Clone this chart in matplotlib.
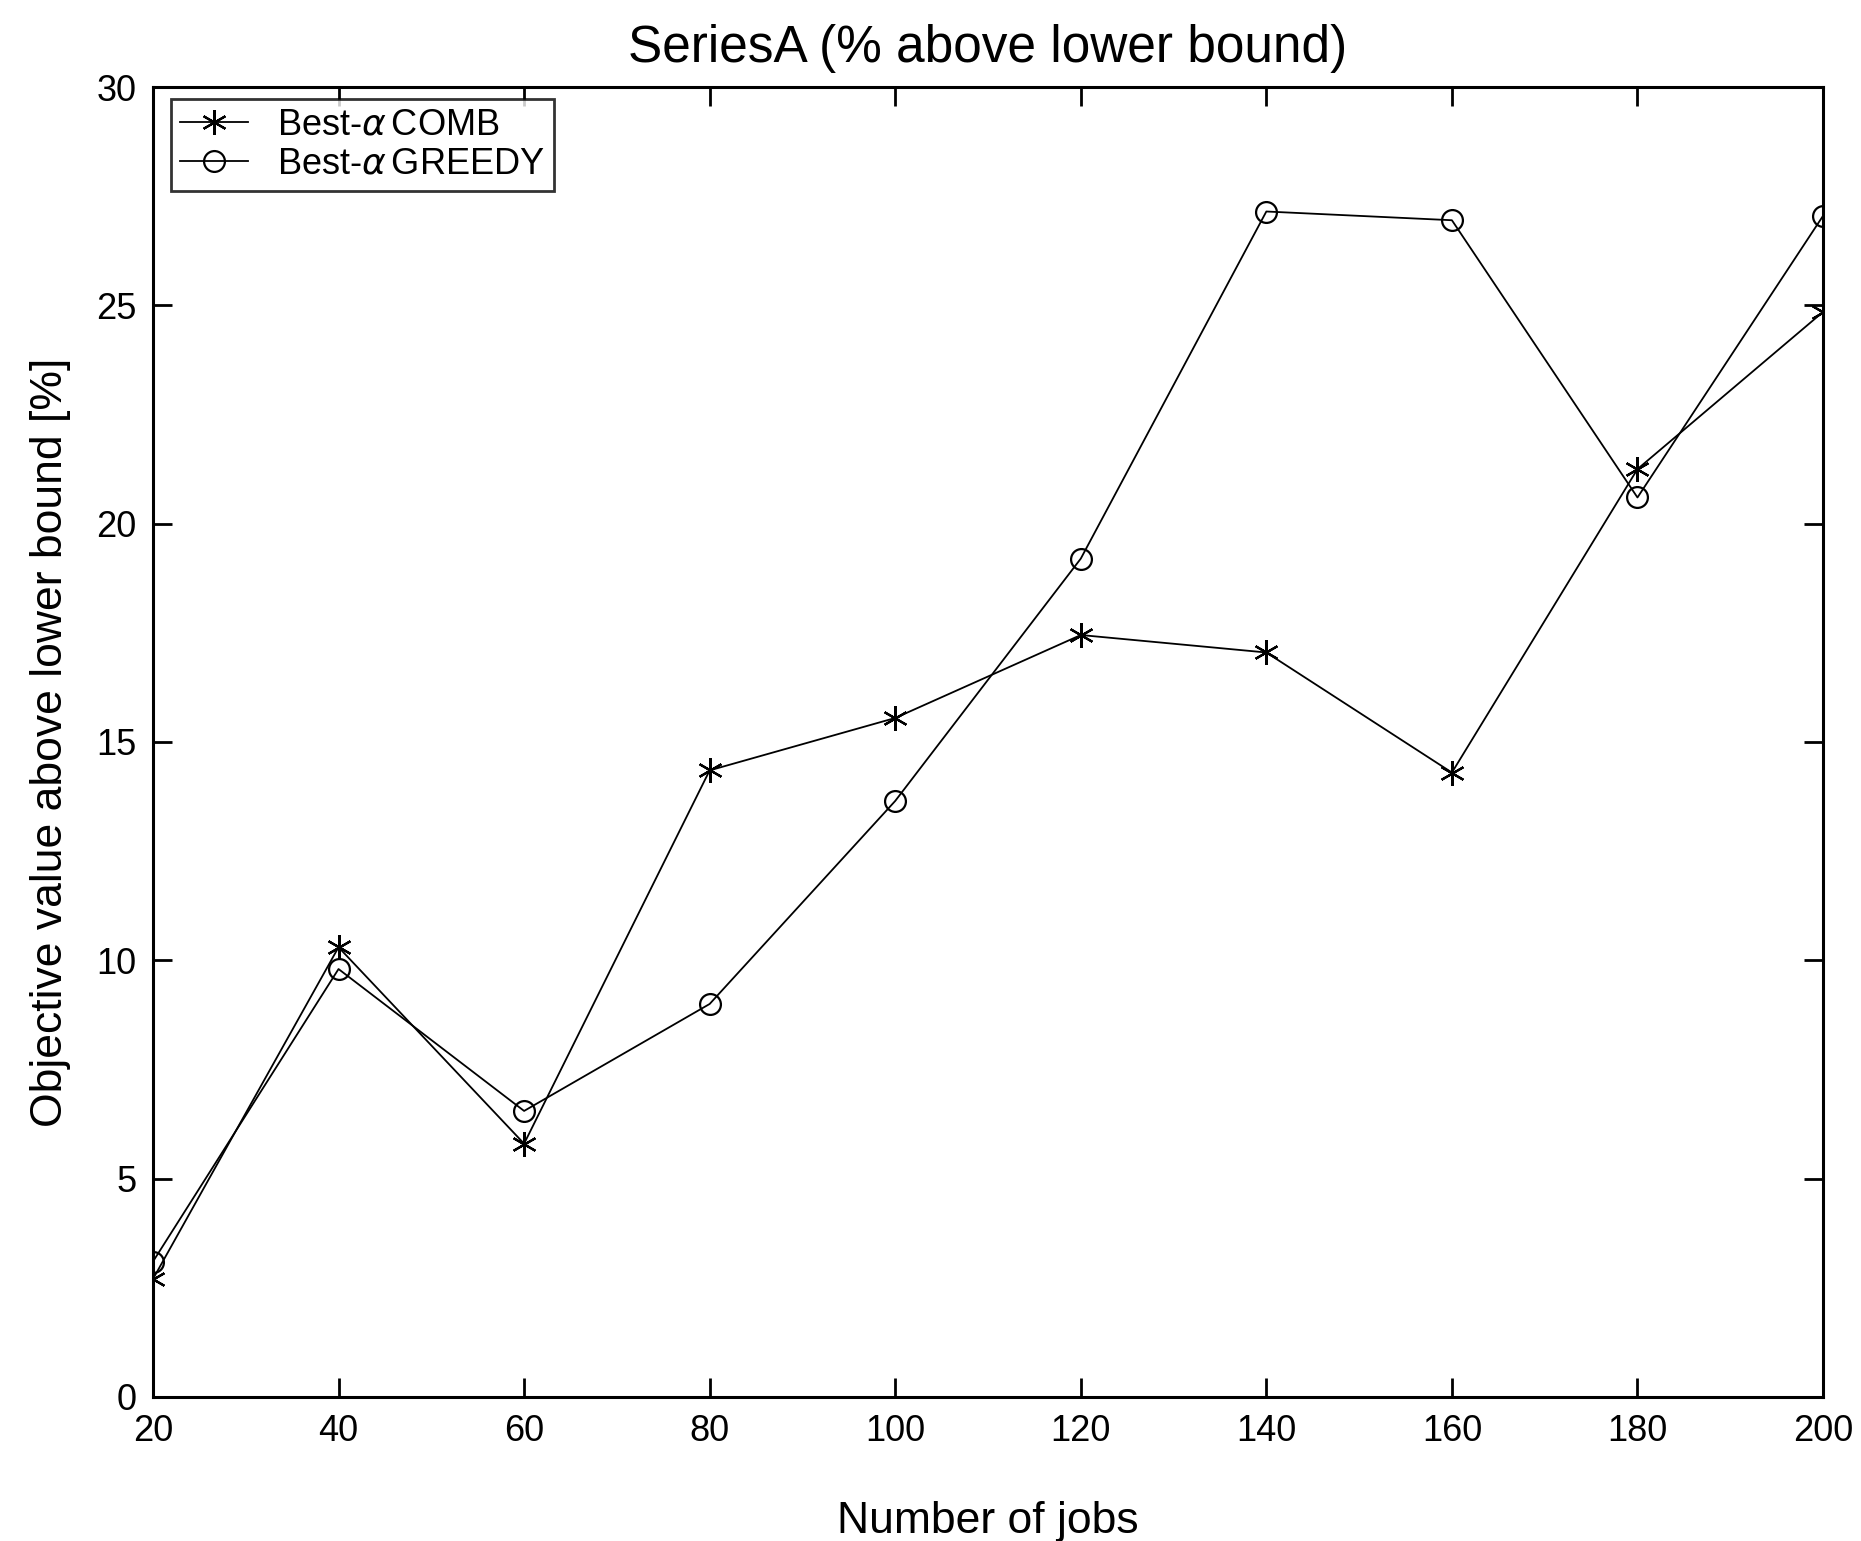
import matplotlib
matplotlib.use("Agg")
import matplotlib.pyplot as plt
import numpy as np

plt.rcParams['font.family'] = ['Liberation Sans', 'DejaVu Sans']

# number of jobs and % above lower bound
jobs = [20, 40, 60, 80, 100, 120, 140, 160, 180, 200]
comb = [2.7, 10.3, 5.8, 14.35, 15.55, 17.45, 17.05, 14.3, 21.25, 24.85]
greedy = [3.1, 9.8, 6.55, 9.0, 13.65, 19.2, 27.15, 26.95, 20.6, 27.05]

fig = plt.figure(figsize=(18.61, 15.41), dpi=100)
ax = fig.add_axes([0.0822, 0.0935, 0.8974, 0.85])

ax.plot(jobs, comb, color='black', lw=1.3, marker=(6, 2, 0), ms=18, mew=1.6,
        label=r'Best-$\alpha\,$COMB')
ax.plot(jobs, greedy, color='black', lw=1.3, marker='o', ms=15, mew=1.6,
        mfc='none', label=r'Best-$\alpha\,$GREEDY')

ax.set_xlim(20, 200)
ax.set_ylim(0, 30)
ax.set_xticks(np.arange(20, 201, 20))
ax.set_yticks(np.arange(0, 31, 5))
ax.tick_params(direction='in', length=14, width=2, labelsize=26, pad=12,
               top=True, right=True)
for s in ax.spines.values():
    s.set_linewidth(2.2)

ax.set_title('SeriesA (% above lower bound)', fontsize=37, pad=18)
ax.set_xlabel('Number of jobs', fontsize=32, labelpad=38)
ax.set_ylabel('Objective value above lower bound [%]', fontsize=32, labelpad=18)

leg = ax.legend(loc='upper left', fontsize=26, frameon=True, fancybox=False,
                edgecolor='black', handlelength=1.9, borderpad=0.25,
                labelspacing=0.1, borderaxespad=0,
                bbox_to_anchor=(0.0107, 0.991))
leg.get_frame().set_linewidth(2)

fig.savefig('out.png', dpi=100)
